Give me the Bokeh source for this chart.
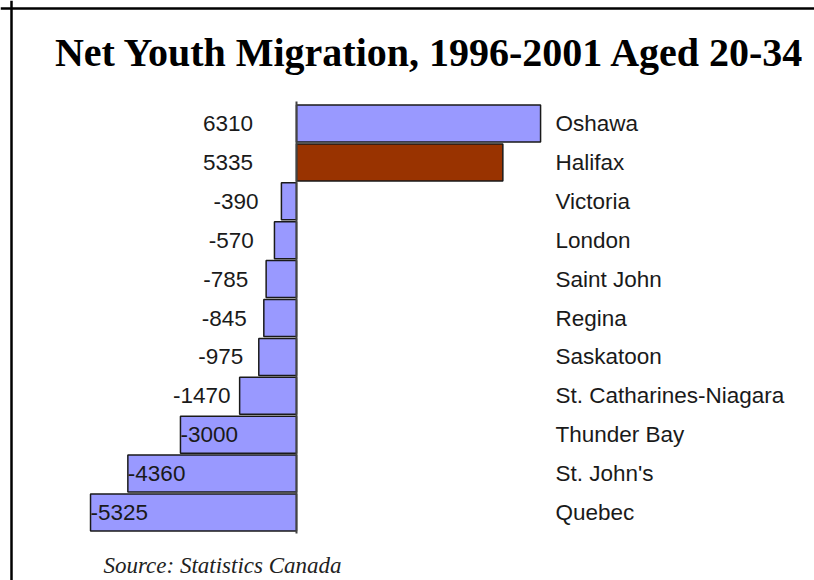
from bokeh.plotting import figure
from bokeh.models import Range1d, Span, ColumnDataSource
from bokeh.core.properties import value
from bokeh.embed import file_html
from bokeh.resources import INLINE

# ---- data ----
cities = ["Oshawa", "Halifax", "Victoria", "London", "Saint John", "Regina",
          "Saskatoon", "St. Catharines-Niagara", "Thunder Bay", "St. John's", "Quebec"]
migration = [6310, 5335, -390, -570, -785, -845, -975, -1470, -3000, -4360, -5325]
highlight = "Halifax"
title_text = "Net Youth Migration, 1996-2001 Aged 20-34"
source_text = "Source: Statistics Canada"

# ---- layout helpers ----
W, H = 814, 580
PX_PER_UNIT = 0.03868
ZERO_PX = 296
ROW0_PX = 123
PITCH = 38.9

x_start = -ZERO_PX / PX_PER_UNIT
x_end = (W - ZERO_PX) / PX_PER_UNIT
y_top = -ROW0_PX / PITCH
y_bottom = (H - ROW0_PX) / PITCH


def X(px):
    return (px - ZERO_PX) / PX_PER_UNIT


def Y(py):
    return (py - ROW0_PX) / PITCH


idx = list(range(len(cities)))
colors = ["#993300" if c == highlight else "#9999FF" for c in cities]

p = figure(width=W, height=H, x_range=Range1d(x_start, x_end),
           y_range=Range1d(y_bottom, y_top), output_backend="svg",
           toolbar_location=None, min_border=0,
           x_axis_location=None, y_axis_location=None)
p.grid.visible = False
p.outline_line_color = None
p.background_fill_color = "white"
p.border_fill_color = "white"

src = ColumnDataSource(dict(y=idx, left=[0] * len(idx), right=migration,
                            color=colors, city=cities))
p.hbar(y="y", left="left", right="right", height=0.95, source=src,
       fill_color="color", line_color="#1a1a1a", line_width=1.5)

# zero axis line
p.segment(x0=[0], y0=[Y(101)], x1=[0], y1=[Y(533)], line_color="#444444", line_width=2)

# value labels
r_x, r_y, r_t = [], [], []
l_x, l_y, l_t = [], [], []
for i, v in enumerate(migration):
    if v >= 0:
        r_x.append(X(252.5)); r_y.append(i); r_t.append(str(v))
    elif v > -2000:
        r_x.append(0.67 * v - 720); r_y.append(i); r_t.append(str(v))
    else:
        l_x.append(v); l_y.append(i); l_t.append(str(v))

FS = "22.5px"
p.text(x=r_x, y=r_y, text=r_t, text_align="right", text_baseline="middle",
       text_font=value("Liberation Sans"), text_font_size=FS, text_color="#1a1a1a")
p.text(x=l_x, y=l_y, text=l_t, text_align="left", text_baseline="middle",
       text_font=value("Liberation Sans"), text_font_size=FS, text_color="#1a1a1a")

# city labels
p.text(x=[X(555)] * len(cities), y=idx, text=cities, text_align="left",
       text_baseline="middle", text_font=value("Liberation Sans"),
       text_font_size=FS, text_color="#1a1a1a")

# title
p.text(x=[X(430)], y=[Y(52)], text=[title_text], text_align="center",
       text_baseline="middle", text_font=value("Liberation Serif"),
       text_font_style="bold", text_font_size="40px", text_color="black")

# source
p.text(x=[X(103)], y=[Y(565)], text=[source_text], text_align="left",
       text_baseline="middle", text_font=value("Liberation Serif"),
       text_font_style="italic", text_font_size="23px", text_color="#222222")

# box border (left and top only)
p.add_layout(Span(location=X(11), dimension="height", line_color="black", line_width=2.5))
p.add_layout(Span(location=Y(8), dimension="width", line_color="black", line_width=2.5))

open("out.html", "w").write(file_html(p, INLINE))
